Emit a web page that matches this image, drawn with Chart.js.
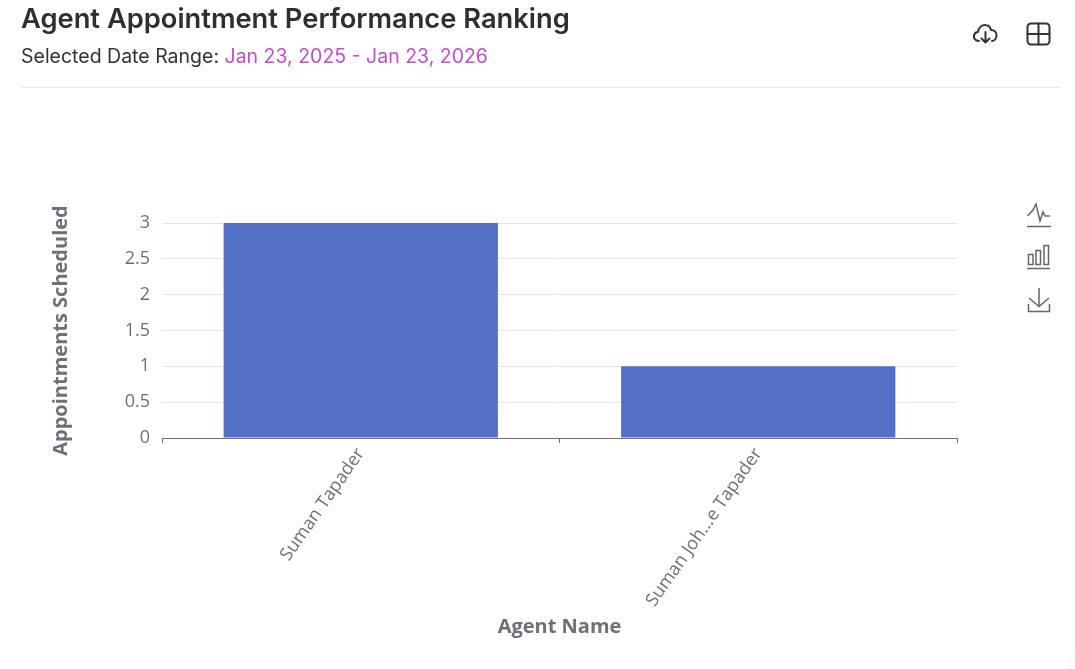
<!DOCTYPE html>
<html>
<head>
<meta charset="utf-8">
<title>Agent Appointment Performance Ranking</title>
<script src="https://cdn.jsdelivr.net/npm/chart.js@4"></script>
<style>
    html, body { margin: 0; padding: 0; background: #fff; overflow: hidden; }
    #pagina { position: relative; width: 1075px; height: 669px; overflow: hidden; }
    #grafico { position: absolute; left: 0; top: 0; }
    .titolo { position: absolute; left: 21px; top: 2px; font: 600 27.3px/34px Inter, sans-serif; color: #2f2f2f; white-space: nowrap; }
    .sottotitolo { position: absolute; left: 21px; top: 43px; font: 400 19.5px/26px Inter, sans-serif; color: #333; white-space: nowrap; }
    .sottotitolo span { color: #c050c8; }
    .divisore { position: absolute; left: 21px; top: 87px; width: 1040px; height: 1px; background: #e7e8ea; }
    svg { position: absolute; fill: none; }
    .testata { stroke: #333; stroke-width: 2; stroke-linecap: round; stroke-linejoin: round; }
    .toolbox { stroke: #666; stroke-width: 1.5; }
    .angolo { position: absolute; left: 1072px; top: 640px; width: 60px; height: 60px; border-radius: 50%; background: #fff; box-shadow: 0 0 6px rgba(0,0,0,0.07); }
</style>
</head>
<body>
<div id="pagina">
    <canvas id="grafico" width="1075" height="669"></canvas>
    <div class="titolo">Agent Appointment Performance Ranking</div>
    <div class="sottotitolo">Selected Date Range: <span>Jan 23, 2025 - Jan 23, 2026</span></div>
    <div class="divisore"></div>

    <svg class="testata" style="left:972px;top:21px" width="27" height="26" viewBox="0 0 27 26">
        <path d="M7 20 C3 20 1.5 17 2 14.500 C2.500 12 4.500 11 6 11 C6.500 6.500 10 3.500 13.500 4 C16.500 4.300 18.500 6.500 19 9 C22.500 9 25 11.500 24.500 15 C24.200 17.500 22.500 19.500 20 20"/>
        <path d="M13.500 11 V21 M9.500 17.500 L13.500 21.500 L17.500 17.500"/>
    </svg>
    <svg class="testata" style="left:1026px;top:22px" width="25" height="24" viewBox="0 0 25 24">
        <rect x="1.500" y="1.500" width="22" height="21" rx="3.500"/>
        <path d="M1.500 12 H23.500 M12.500 1.500 V22.500"/>
    </svg>

    <svg class="toolbox" style="left:1026px;top:202px" width="26" height="26" viewBox="0 0 26 26">
        <path d="M1.500 14 L7 8 L10 2 L14 19 L17 10 L19 14 L24 14"/>
        <path d="M1 24.500 H25"/>
    </svg>
    <svg class="toolbox" style="left:1027px;top:244px" width="24" height="26" viewBox="0 0 24 26">
        <rect x="1.500" y="10.500" width="4.500" height="10"/>
        <rect x="9" y="6.500" width="4.500" height="14"/>
        <rect x="17" y="1.500" width="4.500" height="19"/>
        <path d="M0 24.500 H23"/>
    </svg>
    <svg class="toolbox" style="left:1027px;top:287px" width="24" height="26" viewBox="0 0 24 26">
        <path d="M12 1 V19 M2 11 L12 19.500 L22 11"/>
        <path d="M1.500 17 V24.500 H22.500 V17"/>
    </svg>
    <div class="angolo"></div>
</div>

<script>
    const agentNames = ['Suman Tapader', 'Suman Joh...e Tapader'];
    const appointmentsScheduled = [3, 1];
    const yTicks = [0, 0.5, 1, 1.5, 2, 2.5, 3];

    const fontGrafico = '"Open Sans", "Noto Sans", sans-serif';
    const grigioAsse = '#6E7079';

    new Chart(document.getElementById('grafico'), {
        type: 'bar',
        data: {
            labels: agentNames,
            datasets: [{
                label: 'Appointments Scheduled',
                data: appointmentsScheduled,
                backgroundColor: '#5470C6',
                barPercentage: 0.69,
                categoryPercentage: 1
            }]
        },
        options: {
            responsive: false,
            animation: false,
            layout: { padding: { left: 49, top: 223, right: 118, bottom: 30 } },
            plugins: {
                legend: { display: false },
                tooltip: { enabled: false }
            },
            scales: {
                x: {
                    afterFit: scala => { scala.height = 201; },
                    border: { color: grigioAsse, width: 1 },
                    grid: { drawOnChartArea: false, tickColor: grigioAsse, tickLength: 5 },
                    ticks: {
                        color: grigioAsse,
                        font: { family: fontGrafico, size: 18 },
                        minRotation: 55,
                        maxRotation: 55,
                        padding: 1
                    },
                    title: {
                        display: true,
                        text: 'Agent Name',
                        color: grigioAsse,
                        padding: 0,
                        font: { family: fontGrafico, size: 20, weight: '700' }
                    }
                },
                y: {
                    min: 0,
                    max: 3,
                    afterFit: scala => { scala.width = 113; },
                    afterBuildTicks: scala => { scala.ticks = yTicks.map(value => ({ value })); },
                    border: { display: false },
                    grid: { color: '#E0E6F1', lineWidth: 1, drawTicks: false },
                    ticks: {
                        color: grigioAsse,
                        font: { family: fontGrafico, size: 18 },
                        padding: 12,
                        callback: v => String(v)
                    },
                    title: {
                        display: true,
                        text: 'Appointments Scheduled',
                        color: grigioAsse,
                        padding: 0,
                        font: { family: fontGrafico, size: 20, weight: '700' }
                    }
                }
            }
        }
    });
</script>
</body>
</html>
